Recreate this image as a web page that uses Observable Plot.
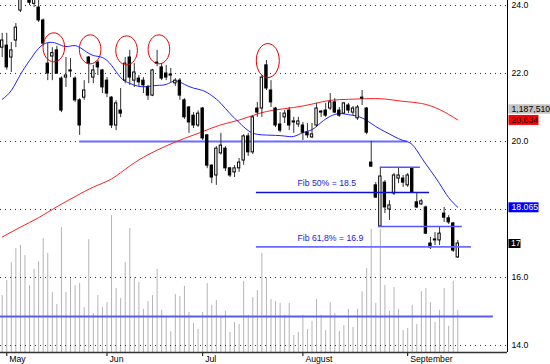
<!DOCTYPE html>
<html><head><meta charset="utf-8">
<script src="https://cdn.jsdelivr.net/npm/d3@7"></script>
<script src="https://cdn.jsdelivr.net/npm/@observablehq/plot@0.6"></script>
<style>
html,body{margin:0;padding:0;background:#fff;}
#chart{position:relative;width:550px;height:364px;overflow:hidden;background:#fff;}
#chart svg{position:absolute;left:0;top:0;}
</style></head><body><div id="chart"></div>
<script>
// ---- data ----
const opens  = [22.76,22.82,22.47,22.97,23.85,24.30,24.30,24.05,23.94,23.56,22.29,22.50,22.68,21.85,21.88,22.09,21.85,21.21,21.29,22.47,21.88,22.32,22.09,21.79,21.29,20.47,20.91,21.79,22.47,21.79,21.85,21.79,21.59,21.35,22.29,22.18,22.00,21.97,21.71,21.79,21.21,21.00,20.76,20.47,20.97,20.18,19.29,19.00,19.65,19.79,19.21,19.09,19.21,19.44,20.15,19.68,20.97,20.97,22.24,21.50,20.97,20.50,20.71,20.91,20.59,20.50,20.47,20.26,20.12,20.47,20.85,20.91,20.97,21.15,20.91,20.82,21.06,20.85,20.68,21.26,20.97,19.38,18.71,17.50,18.79,18.00,18.47,18.91,18.91,18.71,19.21,18.21,18.15,18.06,17.00,17.09,17.09,17.88,17.74,17.59,16.59];
const highs  = [23.18,23.18,22.91,23.47,24.40,24.70,24.50,24.40,24.20,23.60,22.88,22.76,22.80,21.90,22.47,22.44,21.90,21.26,21.79,22.50,22.24,22.38,22.12,21.88,21.32,21.20,21.56,22.47,22.68,22.29,21.94,21.88,21.65,22.12,22.68,22.29,22.24,22.15,21.85,21.85,21.26,21.03,20.85,20.90,21.00,20.20,19.32,19.85,20.24,19.85,19.24,19.29,19.50,20.20,20.24,20.76,21.15,21.94,22.38,21.79,21.00,20.85,20.91,21.00,20.71,20.71,20.56,20.53,20.53,21.12,20.91,21.12,21.41,21.26,21.00,21.15,21.12,21.03,21.06,21.50,21.00,20.00,18.79,19.24,18.85,18.26,19.06,19.24,19.00,19.06,19.24,18.47,18.29,18.10,17.18,17.32,17.47,18.06,17.82,17.62,17.09];
const lows   = [22.47,22.10,22.03,22.76,23.79,24.20,24.00,23.94,23.50,22.82,21.79,21.79,21.97,20.85,21.59,21.88,21.15,20.18,21.21,21.70,21.70,21.94,21.41,21.29,20.38,20.32,20.70,21.70,21.65,21.59,21.62,21.41,21.21,21.32,22.20,21.79,21.79,21.74,21.62,21.21,20.65,20.24,20.38,20.41,20.03,19.20,18.76,18.71,19.60,19.12,18.94,18.94,19.09,19.30,19.56,19.62,20.71,20.71,21.50,21.00,20.41,20.26,20.53,20.32,20.24,20.41,20.03,20.09,20.09,20.41,20.71,20.71,20.91,20.82,20.71,20.80,20.82,20.76,20.62,21.06,20.20,19.24,18.33,17.48,17.88,17.68,18.41,18.76,18.65,18.65,18.47,18.03,18.12,17.26,16.82,16.94,16.94,17.62,17.56,16.74,16.56];
const closes = [22.97,22.18,22.68,23.35,24.30,24.50,24.08,24.30,23.56,22.88,22.00,22.60,22.00,20.91,21.94,22.06,21.21,20.47,21.50,22.29,22.09,22.18,21.59,21.41,20.47,21.12,20.82,22.29,21.88,22.03,21.74,21.65,21.35,22.09,22.32,21.85,21.88,21.94,21.79,21.35,20.71,20.56,20.47,20.82,20.09,19.29,18.94,19.79,19.88,19.21,19.00,19.21,19.38,20.15,19.68,20.71,20.85,21.88,21.56,21.15,20.47,20.32,20.82,20.47,20.56,20.59,20.26,20.18,20.21,20.97,20.88,20.76,21.15,20.85,20.76,21.12,20.91,20.97,21.00,21.29,20.26,19.26,18.35,18.97,18.06,18.12,19.00,19.00,18.79,19.00,18.50,18.06,18.24,17.29,16.88,17.12,17.29,17.76,17.62,16.79,17.00];
// volume, millions of shares
const volumes = [1.61,2.04,2.54,2.94,3.03,2.74,1.89,2.35,2.57,3.22,2.80,1.70,1.36,3.53,1.70,2.09,1.89,1.95,1.27,3.19,1.10,1.61,1.27,1.41,3.87,1.81,1.53,2.54,3.51,2.12,1.98,1.22,1.44,1.61,2.35,1.19,1.02,0.59,1.64,1.58,1.87,1.13,0.82,0.65,1.13,1.95,1.33,1.47,1.02,1.16,0.57,0.85,0.79,2.01,1.05,1.55,1.75,2.80,2.12,1.50,1.44,1.39,1.05,1.39,0.48,0.57,1.05,0.65,0.88,1.50,1.05,0.62,1.41,1.10,0.59,0.76,1.22,0.71,1.22,1.72,2.37,3.48,1.39,3.48,1.89,1.16,1.84,1.22,0.62,0.68,1.33,0.79,1.72,1.81,1.41,0.85,1.19,1.81,0.74,2.01,1.19];
// moving averages read at selected sessions
const blueIdx  = [0,2,4,6,8,10,12,14,16,18,20,22,24,26,28,30,32,34,36,38,40,42,44,46,48,50,52,54,56,58,60,62,64,66,68,70,72,74,76,78,80,82,84,86,88,90,92,94,96,98,100];
const blueVals = [21.24,21.50,21.97,22.38,22.74,22.91,22.88,22.79,22.82,22.68,22.53,22.47,22.24,21.88,21.71,21.62,21.62,21.65,21.68,21.78,21.68,21.57,21.50,21.35,21.12,20.82,20.56,20.32,20.21,20.19,20.18,20.16,20.15,20.26,20.35,20.56,20.74,20.82,20.79,20.74,20.62,20.44,20.29,20.15,20.03,19.91,19.53,19.15,18.76,18.35,18.065];
const redIdx  = [0,4,8,12,16,20,24,28,32,36,40,44,48,52,56,60,64,68,72,76,80,84,88,92,96,100];
const redVals = [17.19,17.48,17.76,18.08,18.38,18.66,18.90,19.28,19.61,19.87,20.09,20.29,20.49,20.63,20.81,20.93,21.00,21.10,21.21,21.24,21.26,21.25,21.18,21.12,20.94,20.634];
// axes
const monthIdx   = [1,23,44,66,89];
const monthNames = ["May","Jun","Jul","August","September"];
const gridTicks  = [14,16,18,20,22,24];
const labelTicks = [14,16,20,22,24]; // 18.0 is covered by the last-value box in the reference
// annotations
const supportLevel = 20.0, supportFrom = 17, supportTo = 89;
const fibLevels = [18.5, 16.9];
const fibLabels = ["Fib 50% = 18.5", "Fib 61,8% = 16.9"];
const fibFrom = [55.8, 55.8];
const fibTo   = [93.8, 103.0];
const fibLabelAt = [64.8, 64.8];
const boxLevels = [19.24, 17.5];
const boxFrom = [83.0, 82.6];
const boxTo   = [91.8, 101.0];
const circleIdx = [11.33, 19.3, 27.3, 34.4, 58.3];
const circleP   = [22.77, 22.71, 22.68, 22.71, 22.38];
const volRefLevel = 1.02, volRefFrom = -0.37, volRefTo = 107.8;
const lastVolume = 1187510, lastRed = 20.634, lastBlue = 18.065, lastClose = 17;

// ---- layout ----
const W = 550, H = 364, mL = 0, mR = 43, mT = 0, mB = 12;
const xDomain = [-0.373, 110.91];
const yDomain = [13.794, 24.147];
const volDomain = [0, 9.952];
const font = "'Liberation Sans', Arial, sans-serif";

const candles = opens.map((o, i) => ({i, open: o, high: highs[i], low: lows[i], close: closes[i], vol: volumes[i]}));
const up = candles.filter(d => d.close >= d.open);
const down = candles.filter(d => d.close < d.open);
const blue = blueIdx.map((i, k) => ({i, v: blueVals[k]}));
const red = redIdx.map((i, k) => ({i, v: redVals[k]}));
const fibs = fibLevels.map((v, k) => ({v, a: fibFrom[k], b: fibTo[k], t: fibLabels[k], at: fibLabelAt[k]}));
const boxes = boxLevels.map((v, k) => ({v, a: boxFrom[k], b: boxTo[k]}));
const circles = circleIdx.map((i, k) => ({i, p: circleP[k]}));
const months = monthIdx.map((i, k) => ({i, name: monthNames[k]}));

const ellipseSym = (rx, ry) => ({draw(ctx) {
  const k = 0.5523;
  ctx.moveTo(rx, 0);
  ctx.bezierCurveTo(rx, ry * k, rx * k, ry, 0, ry);
  ctx.bezierCurveTo(-rx * k, ry, -rx, ry * k, -rx, 0);
  ctx.bezierCurveTo(-rx, -ry * k, -rx * k, -ry, 0, -ry);
  ctx.bezierCurveTo(rx * k, -ry, rx, -ry * k, rx, 0);
  ctx.closePath();
}});
const boxSym = (w, h) => ({draw(ctx) { ctx.rect(1, -h / 2, w, h); }});
const xr = () => xDomain[1];

const common = {width: W, height: H, marginLeft: mL, marginRight: mR, marginTop: mT, marginBottom: mB};

const volPlot = Plot.plot({
  ...common,
  style: {fontFamily: font, fontSize: "8.7px", background: "transparent"},
  x: {type: "linear", domain: xDomain, axis: null},
  y: {domain: volDomain, axis: null},
  marks: [
    Plot.ruleX(candles, {x: "i", y1: 0, y2: "vol", stroke: "#b4b4b4", strokeWidth: 1}),
    Plot.ruleY([{v: volRefLevel, a: volRefFrom, b: volRefTo}], {y: "v", x1: "a", x2: "b", stroke: "#5a5af5", strokeWidth: 2})
  ]
});

const pricePlot = Plot.plot({
  ...common,
  style: {fontFamily: font, fontSize: "8.7px", background: "transparent"},
  x: {type: "linear", domain: xDomain, axis: "bottom", ticks: monthIdx, tickSize: 4, tickFormat: () => "", label: null},
  y: {domain: yDomain, axis: "right", ticks: labelTicks, tickSize: 0, tickPadding: 4, tickFormat: d => d.toFixed(1), label: null},
  marks: [
    Plot.ruleY(gridTicks, {stroke: "#333", strokeDasharray: "1,4", strokeWidth: 1}),
    Plot.ruleY([{v: supportLevel, a: supportFrom, b: supportTo}], {y: "v", x1: "a", x2: "b", stroke: "#6b6bff", strokeWidth: 2}),
    Plot.line(red, {x: "i", y: "v", stroke: "#ff2020", strokeWidth: 1, curve: "natural"}),
    Plot.line(blue, {x: "i", y: "v", stroke: "#2020ff", strokeWidth: 1, curve: "natural"}),
    Plot.ruleX(candles, {x: "i", y1: "low", y2: "high", stroke: "#333", strokeWidth: 1}),
    Plot.rect(down, {x1: d => d.i - 0.5, x2: d => d.i + 0.5, y1: "open", y2: "close", insetLeft: 1.1, insetRight: 1.1, fill: "#000", stroke: "#000", strokeWidth: 1}),
    Plot.rect(up, {x1: d => d.i - 0.5, x2: d => d.i + 0.5, y1: "open", y2: "close", insetLeft: 1.1, insetRight: 1.1, fill: "#fff", stroke: "#000", strokeWidth: 1}),
    Plot.ruleY(fibs.slice(0, 1), {y: "v", x1: "a", x2: "b", stroke: "#1010d0", strokeWidth: 1.5}),
    Plot.ruleY(fibs.slice(1), {y: "v", x1: "a", x2: "b", stroke: "#6b6bff", strokeWidth: 1.8}),
    Plot.ruleY(boxes, {y: "v", x1: "a", x2: "b", stroke: "#5555ff", strokeWidth: 1.5}),
    Plot.text(fibs, {x: "at", y: "v", text: "t", dy: -9, textAnchor: "start", fill: "#2222dd", fontSize: 8.7}),
    Plot.dot(circles.slice(0, 4), {x: "i", y: "p", symbol: ellipseSym(10.8, 14.5), fill: "none", stroke: "#e00000", strokeWidth: 1}),
    Plot.dot(circles.slice(4), {x: "i", y: "p", symbol: ellipseSym(11.5, 17), fill: "none", stroke: "#e00000", strokeWidth: 1}),
    Plot.ruleX([xDomain[1]], {stroke: "#000", strokeWidth: 1}),
    Plot.ruleY([yDomain[0]], {stroke: "#333", strokeWidth: 1.5}),
    Plot.text(months, {x: "i", y: () => yDomain[0], text: "name", dy: 6.5, dx: 2.5, textAnchor: "start", fill: "#000", fontSize: 8.7}),
    // last-value labels on the right axis
    Plot.dot([{v: lastRed}], {x: xr, y: "v", dy: -11, symbol: boxSym(42, 9.6), fill: "#c4c4c4", stroke: "none"}),
    Plot.text([{v: lastRed}], {x: xr, y: "v", dy: -11, dx: 4, text: () => d3.format(",")(lastVolume), textAnchor: "start", fill: "#000", fontSize: 8.7}),
    Plot.dot([{v: lastRed}], {x: xr, y: "v", symbol: boxSym(30, 10), fill: "#ff0000", stroke: "none"}),
    Plot.text([{v: lastRed}], {x: xr, y: "v", dx: 4, text: d => d.v.toFixed(3), textAnchor: "start", fill: "#000", fontSize: 8.7}),
    Plot.dot([{v: lastBlue}], {x: xr, y: "v", symbol: boxSym(30, 10), fill: "#0000ff", stroke: "none"}),
    Plot.text([{v: lastBlue}], {x: xr, y: "v", dx: 4, text: d => d.v.toFixed(3), textAnchor: "start", fill: "#fff", fontSize: 8.7}),
    Plot.dot([{v: lastClose}], {x: xr, y: "v", symbol: boxSym(12, 9), fill: "#000", stroke: "none"}),
    Plot.text([{v: lastClose}], {x: xr, y: "v", dx: 3.5, text: d => String(d.v), textAnchor: "start", fill: "#fff", fontSize: 8.7})
  ]
});

const el = document.getElementById("chart");
el.appendChild(volPlot);
el.appendChild(pricePlot);
</script></body></html>
